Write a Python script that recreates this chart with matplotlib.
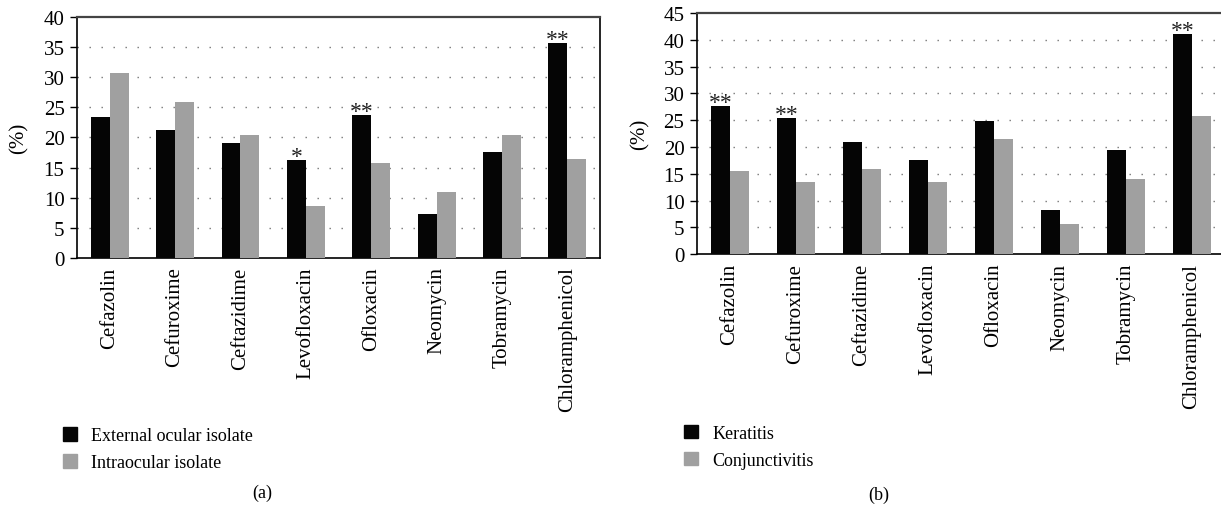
import numpy as np
import matplotlib.pyplot as plt
from matplotlib.patches import Patch

plt.rcParams['font.family'] = ['Liberation Serif', 'DejaVu Serif']

# Data
drugs = ['Cefazolin', 'Cefuroxime', 'Ceftazidime', 'Levofloxacin',
         'Ofloxacin', 'Neomycin', 'Tobramycin', 'Chloramphenicol']

external = [23.4, 21.2, 19.1, 16.25, 23.7, 7.3, 17.6, 35.7]
intraocular = [30.7, 25.9, 20.4, 8.6, 15.75, 10.9, 20.4, 16.4]
stars_a = ['', '', '', '*', '**', '', '', '**']

keratitis = [27.7, 25.4, 20.95, 17.6, 24.9, 8.3, 19.5, 41.1]
conjunctivitis = [15.5, 13.5, 15.9, 13.5, 21.5, 5.65, 14.05, 25.8]
stars_b = ['**', '**', '', '', '', '', '', '**']

black = '#050505'
gray = '#a0a0a0'
bar_w = 0.29
x = np.arange(len(drugs))

fig = plt.figure(figsize=(12.21, 5.10), dpi=100)


def panel(rect, s1, s2, stars, ymax, labels, legend_xy, caption_xy, caption, ylpad):
    ax = fig.add_axes(rect)
    ax.bar(x - bar_w / 2, s1, width=bar_w, color=black, zorder=3)
    ax.bar(x + bar_w / 2, s2, width=bar_w, color=gray, zorder=3)
    ax.set_xlim(-0.5, 7.5)
    ax.set_ylim(0, ymax)
    ax.set_yticks(np.arange(0, ymax + 1, 5))
    ax.set_xticks(x)
    ax.set_xticklabels(drugs, rotation=90, fontsize=15)
    ax.tick_params(axis='x', length=0, pad=6)
    ax.tick_params(axis='y', length=5, width=1, labelsize=15, pad=4)
    for t in np.arange(5, ymax, 5):
        ax.axhline(t, color='#777777', lw=1, ls=(0, (1, 7.64)), zorder=1)
    for s in ['left', 'bottom', 'right']:
        ax.spines[s].set_color('black')
        ax.spines[s].set_linewidth(1.2)
    ax.spines['top'].set_color('#444444')
    ax.spines['top'].set_linewidth(1.6)
    ax.set_ylabel('(%)', fontsize=15, labelpad=ylpad)
    for xi, v, st in zip(x, s1, stars):
        if st:
            ax.annotate(st, (xi - bar_w / 2, v), xytext=(0, -5),
                        textcoords='offset points', ha='center', va='bottom',
                        fontsize=17, color='#222222')
    handles = [Patch(color=black, label=labels[0]), Patch(color=gray, label=labels[1])]
    fig.legend(handles=handles, loc='upper left', bbox_to_anchor=legend_xy,
               frameon=False, fontsize=13, handlelength=0.75, handleheight=0.75,
               handletextpad=0.8, labelspacing=0.55, borderpad=0, borderaxespad=0)
    fig.text(caption_xy[0], caption_xy[1], caption, ha='center', va='center', fontsize=13)
    return ax


panel([0.0631, 0.4922, 0.4283, 0.4725], external, intraocular, stars_a, 40,
      ['External ocular isolate', 'Intraocular isolate'],
      (0.052, 0.16), (0.2146, 0.033), '(a)', 11)
panel([0.5708, 0.4994, 0.4324, 0.4731], keratitis, conjunctivitis, stars_b, 45,
      ['Keratitis', 'Conjunctivitis'],
      (0.5605, 0.165), (0.7199, 0.029), '(b)', 10)

fig.savefig('out.png', dpi=100)
